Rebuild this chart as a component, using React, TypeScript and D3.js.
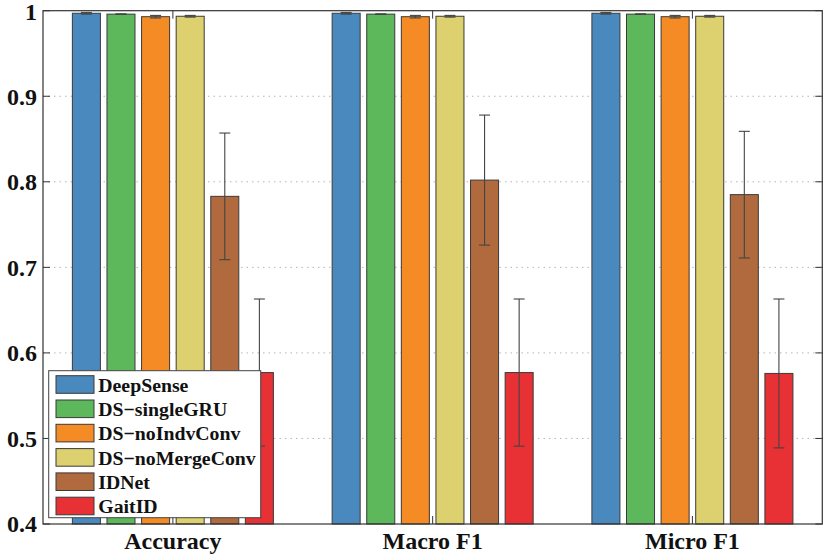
import React from 'react';
import * as d3 from 'd3';

// metrics on the x axis
const categories = ['Accuracy', 'Macro F1', 'Micro F1'];
const models = ['DeepSense', 'DS−singleGRU', 'DS−noIndvConv', 'DS−noMergeConv', 'IDNet', 'GaitID'];
const colors = ['#4a89be', '#5db75b', '#f58b24', '#dcd06f', '#b06a3d', '#e83134'];

// mean per model, one array per metric
const accuracy = [0.997, 0.996, 0.993, 0.9935, 0.783, 0.577];
const macroF1 = [0.997, 0.996, 0.993, 0.9935, 0.802, 0.577];
const microF1 = [0.997, 0.996, 0.993, 0.9935, 0.785, 0.576];
// half width of the error bars
const accuracyErr = [0.001, 0.0003, 0.0015, 0.001, 0.074, 0.086];
const macroErr = [0.001, 0.0003, 0.0015, 0.001, 0.076, 0.086];
const microErr = [0.001, 0.0003, 0.0015, 0.001, 0.074, 0.087];

const yTicks = [0.4, 0.5, 0.6, 0.7, 0.8, 0.9, 1];
const gridTicks = [0.5, 0.6, 0.7, 0.8, 0.9];

const means = [accuracy, macroF1, microF1];
const errs = [accuracyErr, macroErr, microErr];

const W = 830;
const H = 560;
const left = 43;
const right = 822.3;
const top = 10.7;
const bottom = 524;
const font = '"Liberation Serif", "Times New Roman", serif';

export default function App() {
  const x0 = d3.scaleBand<string>().domain(categories).range([left, right]).padding(0);
  const x1 = d3.scaleBand<string>().domain(models).range([-103.8, 103.8])
    .paddingInner(0.19).paddingOuter(0.095);
  const y = d3.scaleLinear().domain([0.4, 1]).range([bottom, top]);
  const capW = 11;

  return (
    <svg width={W} height={H} style={{ position: 'absolute', left: 0, top: 0, background: '#fff' }}>
      {/* grid */}
      {gridTicks.map(t => (
        <line key={'g' + t} x1={left} x2={right} y1={y(t)} y2={y(t)}
          stroke="#b5b5b5" strokeWidth={1} strokeDasharray="1.5,4" />
      ))}

      {/* bars */}
      {categories.map((c, ci) => {
        const cx = x0(c)! + x0.bandwidth() / 2;
        return (
          <g key={c}>
            {models.map((m, mi) => {
              const bx = cx + x1(m)!;
              const v = means[ci][mi];
              return (
                <rect key={m} x={bx} y={y(v)} width={x1.bandwidth()} height={y(0.4) - y(v)}
                  fill={colors[mi]} stroke="#3a3a3a" strokeWidth={1} />
              );
            })}
            {models.map((m, mi) => {
              const mx = cx + x1(m)! + x1.bandwidth() / 2;
              const v = means[ci][mi];
              const e = errs[ci][mi];
              return (
                <g key={'e' + m} stroke="#444" strokeWidth={1.1}>
                  <line x1={mx} x2={mx} y1={y(v + e)} y2={y(v - e)} />
                  <line x1={mx - capW / 2} x2={mx + capW / 2} y1={y(v + e)} y2={y(v + e)} />
                  <line x1={mx - capW / 2} x2={mx + capW / 2} y1={y(v - e)} y2={y(v - e)} />
                </g>
              );
            })}
          </g>
        );
      })}

      {/* axes box */}
      <rect x={left} y={top} width={right - left} height={bottom - top} fill="none" stroke="#333" strokeWidth={1.2} />
      {yTicks.map(t => (
        <g key={'t' + t}>
          <line x1={left} x2={left + 7} y1={y(t)} y2={y(t)} stroke="#333" />
          <line x1={right - 7} x2={right} y1={y(t)} y2={y(t)} stroke="#333" />
          <text x={37} y={y(t)} dy={t === 1 ? '0.4em' : '0.35em'} textAnchor="end" fontFamily={font}
            fontWeight="bold" fontSize={24} fill="#111">{String(t)}</text>
        </g>
      ))}
      {categories.map(c => {
        const cx = x0(c)! + x0.bandwidth() / 2;
        return (
          <g key={'x' + c}>
            <line x1={cx} x2={cx} y1={top} y2={top + 8} stroke="#333" />
            <line x1={cx} x2={cx} y1={bottom} y2={bottom - 8} stroke="#333" />
            <text x={cx} y={549} textAnchor="middle" fontFamily={font} fontWeight="bold"
              fontSize={24} fill="#111">{c}</text>
          </g>
        );
      })}

      {/* legend */}
      <g>
        <rect x={48.7} y={370.7} width={212} height={147} fill="#fff" stroke="#444" strokeWidth={1} />
        {models.map((m, i) => (
          <g key={'l' + m} transform={`translate(0, ${375.7 + i * 24.3})`}>
            <rect x={56} y={0} width={38} height={17.6} fill={colors[i]} stroke="#3a3a3a" strokeWidth={1} />
            <text x={98.3} y={16} fontFamily={font} fontWeight="bold" fontSize={19.8} fill="#111">{m}</text>
          </g>
        ))}
      </g>
    </svg>
  );
}
